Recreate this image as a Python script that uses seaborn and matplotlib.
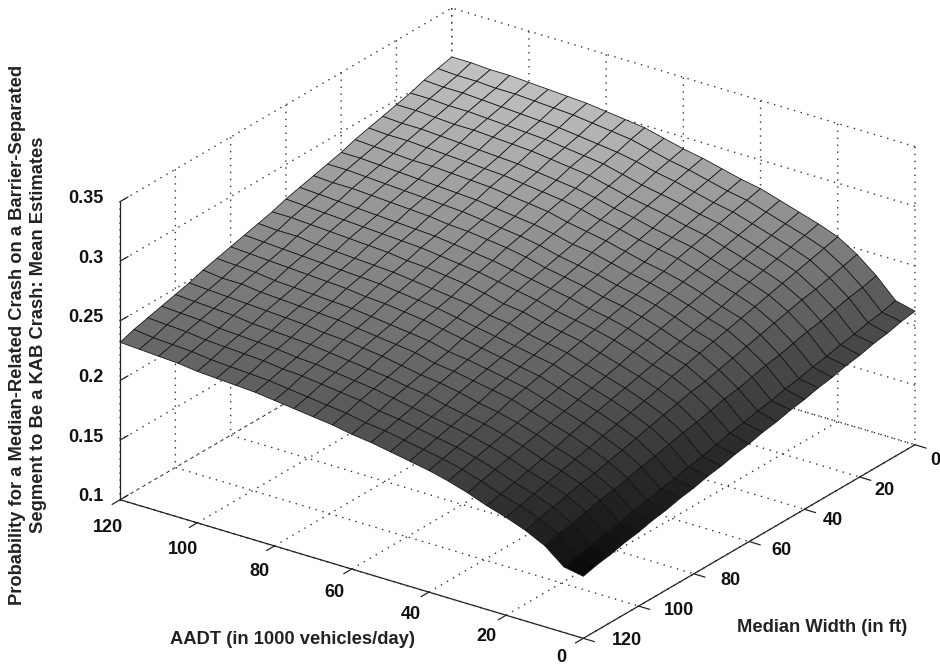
import numpy as np
import matplotlib
matplotlib.use("Agg")
import matplotlib.pyplot as plt
import seaborn as sns
from mpl_toolkits.mplot3d import proj3d

aadt = [0, 5, 10, 15, 20, 25, 30, 35, 40, 45, 50, 55, 60, 65, 70, 75, 80, 85, 90, 95, 100, 105, 110, 115, 120]
median_width = [0, 5, 10, 15, 20, 25, 30, 35, 40, 45, 50, 55, 60, 65, 70, 75, 80, 85, 90, 95, 100, 105, 110, 115, 120]

# probability x 1000, one row per aadt value, running along median_width
prob_milli = [
    [212,210,207,205,202,200,197,195,192,190,187,185,182,180,177,175,172,170,167,165,162,160,157,155,152],
    [216,213,211,208,206,203,201,198,196,193,191,188,186,183,180,178,175,173,170,168,165,163,160,158,155],
    [232,229,227,224,221,219,216,213,211,208,205,203,200,197,195,192,189,187,184,181,179,176,173,171,168],
    [245,242,239,236,234,231,228,225,222,219,216,213,211,208,205,202,199,196,193,190,188,185,182,179,176],
    [255,252,249,246,243,240,237,234,231,228,225,222,219,215,212,209,206,203,200,197,194,191,188,185,182],
    [261,258,255,252,249,246,243,239,236,233,230,227,224,221,218,215,212,209,206,202,199,196,193,190,187],
    [266,263,260,257,254,251,248,245,242,239,236,233,230,226,223,220,217,214,211,208,205,202,199,196,193],
    [271,268,265,262,259,256,253,250,247,244,241,238,235,231,228,225,222,219,216,213,210,207,204,201,198],
    [276,273,270,267,264,261,258,254,251,248,245,242,239,236,233,230,227,224,221,217,214,211,208,205,202],
    [279,276,273,270,267,264,261,257,254,251,248,245,242,239,236,233,230,227,224,220,217,214,211,208,205],
    [283,280,277,274,271,267,264,261,258,255,252,249,245,242,239,236,233,230,227,224,220,217,214,211,208],
    [287,284,281,277,274,271,268,265,262,258,255,252,249,246,243,239,236,233,230,227,224,220,217,214,211],
    [290,287,284,280,277,274,271,268,264,261,258,255,252,248,245,242,239,235,232,229,226,223,219,216,213],
    [294,291,288,284,281,278,275,271,268,265,262,258,255,252,249,245,242,239,236,232,229,226,223,219,216],
    [298,295,291,288,285,281,278,275,271,268,265,261,258,255,251,248,245,241,238,235,231,228,225,221,218],
    [300,297,293,290,287,283,280,277,273,270,267,263,260,257,253,250,247,243,240,237,233,230,227,223,220],
    [302,299,295,292,289,285,282,279,275,272,269,265,262,259,255,252,249,245,242,239,235,232,229,225,222],
    [304,301,297,294,291,287,284,281,277,274,270,267,264,260,257,254,250,247,244,240,237,233,230,227,224],
    [305,302,298,295,292,288,285,282,278,275,272,268,265,262,258,255,252,248,245,242,238,235,232,228,225],
    [306,303,299,296,293,289,286,283,279,276,273,269,266,263,259,256,253,249,246,243,239,236,233,229,226],
    [307,304,300,297,294,290,287,284,280,277,274,270,267,264,260,257,254,250,247,244,240,237,234,230,227],
    [308,304,301,298,294,291,288,284,281,278,275,271,268,265,261,258,255,251,248,245,242,238,235,232,229],
    [308,305,302,298,295,292,289,285,282,279,276,272,269,266,263,259,256,253,250,246,243,240,237,233,230],
    [309,305,302,299,296,292,289,286,283,280,276,273,270,267,263,260,257,254,250,247,244,241,238,234,231],
    [309,306,303,299,296,293,290,287,283,280,277,274,271,267,264,261,258,255,252,248,245,242,239,236,232],
]

x_ticks = [0, 20, 40, 60, 80, 100, 120]
y_ticks = [0, 20, 40, 60, 80, 100, 120]
z_ticks = [0.1, 0.15, 0.2, 0.25, 0.3, 0.35]
z_labels = ["0.1", "0.15", "0.2", "0.25", "0.3", "0.35"]

sns.set_theme(style="ticks")
plt.rcParams["font.family"] = ["Liberation Sans", "DejaVu Sans"]

fig = plt.figure(figsize=(9.4, 6.65), dpi=100)
ax = fig.add_axes([0.041, 0.0005, 1, 1], projection="3d", proj_type="ortho")

X, Y = np.meshgrid(aadt, median_width, indexing="ij")
Z = np.array(prob_milli) / 1000

surf = ax.plot_surface(X, Y, Z, rstride=1, cstride=1, cmap=sns.color_palette("gray", as_cmap=True),
                       vmin=0.145, vmax=0.36, edgecolor="#111111", linewidth=0.55)
surf.set_clip_on(False)

ax.set_xlim(0, 120, view_margin=0)
ax.set_ylim(0, 120, view_margin=0)
ax.set_zlim(0.1, 0.35, view_margin=0)
ax.set_xticks(x_ticks)
ax.set_yticks(y_ticks)
ax.set_zticks(z_ticks)
ax.set_xticklabels([])
ax.set_yticklabels([])
ax.set_zticklabels([])
ax.view_init(elev=24.7, azim=125.6)
ax.set_box_aspect((1, 1, 0.576), zoom=1.27)
ax.zaxis.set_ticks_position("upper")

for axis in (ax.xaxis, ax.yaxis, ax.zaxis):
    axis.pane.fill = False
    axis.pane.set_edgecolor("none")
    axis.line.set_color("#222222")
    axis.line.set_linewidth(0.9)
    axis._axinfo["grid"].update(color="#333333", linestyle=(0, (1, 4)), linewidth=1.0)
    axis._axinfo["tick"].update(inward_factor=0.0, outward_factor=-0.3)
    axis._axinfo["tick"]["linewidth"] = {True: 0.9, False: 0.9}
ax.zaxis._axinfo["tick"]["outward_factor"] = 0.3


def put_label(x, y, z, s, ha="center"):
    # text2D in the projected position, the 3D text objects report odd extents
    px, py, _ = proj3d.proj_transform(x, y, z, ax.get_proj())
    ax.text2D(px, py, s, transform=ax.transData, clip_on=False, fontsize=13, fontweight="bold",
              color="#111111", ha=ha, va="center")


for a in x_ticks:
    put_label(a * 0.98 + 1.3, 126.0, 0.0905 - a * 0.00004, str(a))
for w in y_ticks:
    put_label(-8.2, w * 0.93 + 4, 0.1, str(w))
for z, s in zip(z_ticks, z_labels):
    put_label(122.9, 122.1, z + 0.0025, s, ha="right")

label_font = dict(fontsize=13.2, fontweight="bold", color="#222222")
fig.text(293 / 940, 1 - 640 / 665, "AADT (in 1000 vehicles/day)", ha="center", va="center", **label_font)
fig.text(822 / 940, 1 - 627 / 665, "Median Width (in ft)", ha="center", va="center", **label_font)
fig.text(28 / 940, 1 - 335 / 665,
         "Probability for a Median-Related Crash on a Barrier-Separated\nSegment to Be a KAB Crash: Mean Estimates",
         rotation=90, ha="center", va="center", linespacing=1.3, **label_font)

fig.savefig("out.png", dpi=100)
